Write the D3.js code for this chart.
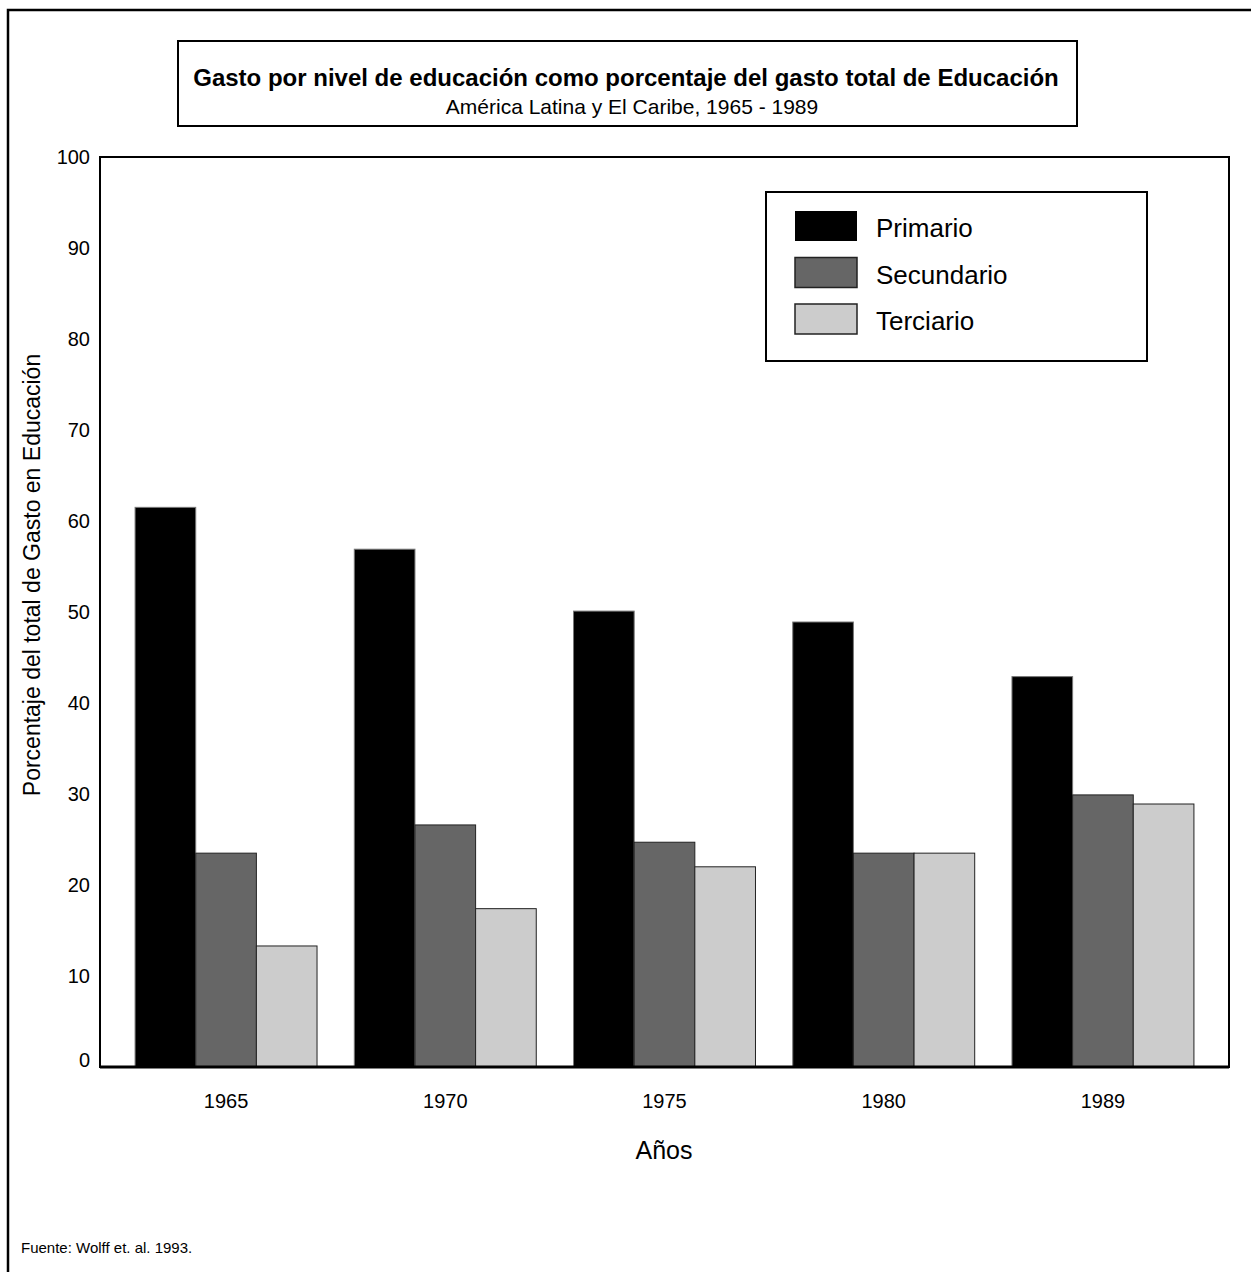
<!DOCTYPE html>
<html>
<head>
<meta charset="utf-8">
<script src="https://cdn.jsdelivr.net/npm/d3@7"></script>
<style>
  body { margin: 0; background: #fff; }
  text { font-family: "Liberation Sans", Arial, sans-serif; fill: #000; }
</style>
</head>
<body>
<svg id="chart" width="1251" height="1272"></svg>
<script>
const years = ["1965", "1970", "1975", "1980", "1989"];
const levels = ["Primario", "Secundario", "Terciario"];
const primario = [61.5, 56.9, 50.1, 48.9, 42.9];
const secundario = [23.5, 26.6, 24.7, 23.5, 29.9];
const terciario = [13.3, 17.4, 22.0, 23.5, 28.9];
const yTicks = [0, 10, 20, 30, 40, 50, 60, 70, 80, 90, 100];
const colors = ["#000000", "#666666", "#cccccc"];

const series = [primario, secundario, terciario];
const rows = years.map((y, i) => ({ year: y, values: levels.map((l, j) => ({ level: l, value: series[j][i] })) }));

const svg = d3.select("#chart");
const margin = { left: 100, top: 157, right: 1229, bottom: 1067 };

// outer frame (only top/left edges fall inside the page)
svg.append("rect")
  .attr("x", 8).attr("y", 10)
  .attr("width", 1400).attr("height", 1400)
  .attr("fill", "none").attr("stroke", "#000").attr("stroke-width", 2.5);

// title box
svg.append("rect")
  .attr("x", 178).attr("y", 41).attr("width", 899).attr("height", 85)
  .attr("fill", "#fff").attr("stroke", "#000").attr("stroke-width", 2);
svg.append("text")
  .attr("x", 626).attr("y", 86)
  .attr("text-anchor", "middle")
  .style("font-size", "24px").style("font-weight", "bold")
  .text("Gasto por nivel de educación como porcentaje del gasto total de Educación");
svg.append("text")
  .attr("x", 632).attr("y", 114)
  .attr("text-anchor", "middle")
  .style("font-size", "21px")
  .text("América Latina y El Caribe, 1965 - 1989");

const x0 = d3.scaleBand()
  .domain(years)
  .range([margin.left, margin.right])
  .paddingInner(0.17)
  .paddingOuter(0.16);
const x1 = d3.scaleBand()
  .domain(levels)
  .range([0, x0.bandwidth()]);
const y = d3.scaleLinear()
  .domain([0, 100])
  .range([margin.bottom, margin.top]);
const color = d3.scaleOrdinal().domain(levels).range(colors);

// plot frame
svg.append("rect")
  .attr("x", margin.left).attr("y", margin.top)
  .attr("width", margin.right - margin.left).attr("height", margin.bottom - margin.top)
  .attr("fill", "#fff").attr("stroke", "#000").attr("stroke-width", 2);

// bars
svg.append("g")
  .selectAll("g")
  .data(rows)
  .join("g")
  .attr("transform", d => `translate(${x0(d.year)},0)`)
  .selectAll("rect")
  .data(d => d.values)
  .join("rect")
  .attr("x", d => x1(d.level))
  .attr("y", d => y(d.value))
  .attr("width", x1.bandwidth())
  .attr("height", d => y(0) - y(d.value))
  .attr("fill", d => color(d.level))
  .attr("stroke", d => d.level === "Primario" ? "#777" : "#222")
  .attr("stroke-width", 1);

// baseline
svg.append("line")
  .attr("x1", margin.left).attr("x2", margin.right)
  .attr("y1", y(0)).attr("y2", y(0))
  .attr("stroke", "#000").attr("stroke-width", 3);

// y axis
const yAxis = svg.append("g")
  .attr("transform", `translate(${margin.left},0)`)
  .call(d3.axisLeft(y).tickValues(yTicks).tickSize(0).tickPadding(10));
yAxis.select(".domain").remove();
yAxis.selectAll("text")
  .style("font-size", "20px")
  .style("font-family", "'Liberation Sans', Arial, sans-serif")
  .attr("dy", d => d === 0 ? "-0.05em" : "0.32em");

// x axis
const xAxis = svg.append("g")
  .attr("transform", `translate(0,${margin.bottom})`)
  .call(d3.axisBottom(x0).tickSize(0).tickPadding(27));
xAxis.select(".domain").remove();
xAxis.selectAll("text")
  .style("font-size", "20px")
  .style("font-family", "'Liberation Sans', Arial, sans-serif");

// axis titles
svg.append("text")
  .attr("x", 664).attr("y", 1159)
  .attr("text-anchor", "middle")
  .style("font-size", "25px")
  .text("Años");
svg.append("text")
  .attr("transform", "translate(40,575) rotate(-90)")
  .attr("text-anchor", "middle")
  .style("font-size", "23px")
  .text("Porcentaje del total de Gasto en Educación");

// legend
const legend = svg.append("g");
legend.append("rect")
  .attr("x", 766).attr("y", 192).attr("width", 381).attr("height", 169)
  .attr("fill", "#fff").attr("stroke", "#000").attr("stroke-width", 2);
const item = legend.selectAll("g.item")
  .data(levels)
  .join("g")
  .attr("class", "item")
  .attr("transform", (d, i) => `translate(795,${211 + i * 46.5})`);
item.append("rect")
  .attr("width", 62).attr("height", 30)
  .attr("fill", d => color(d))
  .attr("stroke", "#222").attr("stroke-width", d => d === "Primario" ? 0 : 1.5);
item.append("text")
  .attr("x", 81).attr("y", 17).attr("dy", "0.35em")
  .style("font-size", "26px")
  .text(d => d);

// source
svg.append("text")
  .attr("x", 21).attr("y", 1253)
  .style("font-size", "15px")
  .text("Fuente: Wolff et. al. 1993.");
</script>
</body>
</html>
